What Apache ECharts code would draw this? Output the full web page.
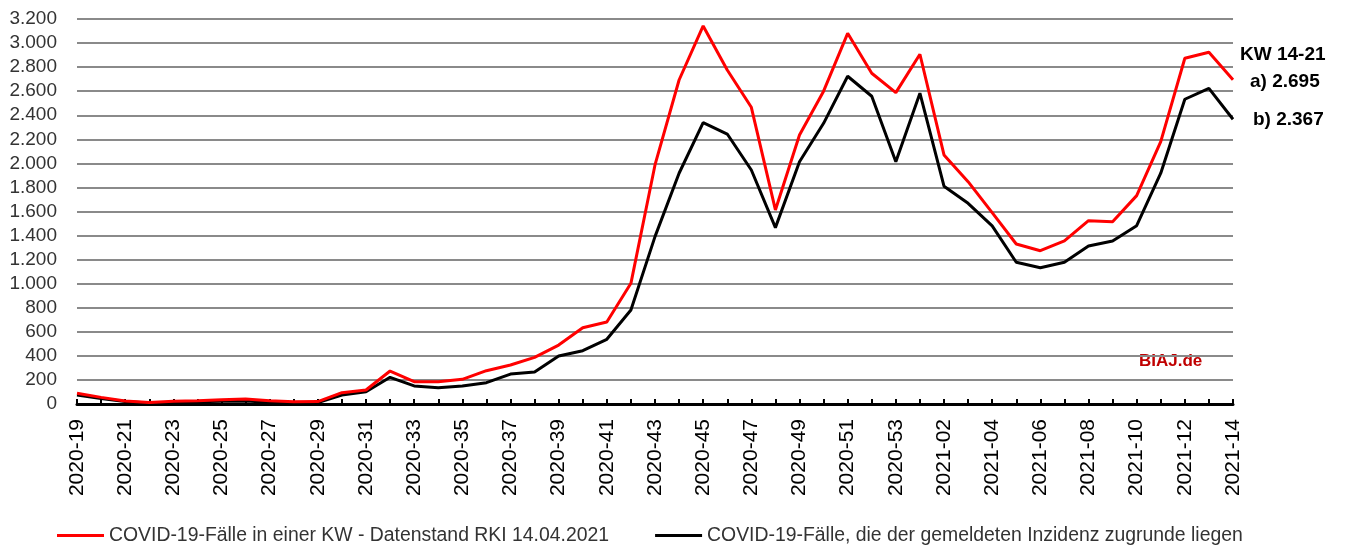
<!DOCTYPE html>
<html>
<head>
<meta charset="utf-8">
<script src="https://cdn.jsdelivr.net/npm/echarts@6/dist/echarts.min.js"></script>
<style>
  html, body { margin: 0; padding: 0; background: #fff; }
  #chart { width: 1346px; height: 545px; }
</style>
</head>
<body>
<div id="chart"></div>
<script>
// Kalenderwochen 2020-19 bis 2021-14
const weeks = [
  '2020-19', '2020-20', '2020-21', '2020-22', '2020-23', '2020-24', '2020-25', '2020-26',
  '2020-27', '2020-28', '2020-29', '2020-30', '2020-31', '2020-32', '2020-33', '2020-34',
  '2020-35', '2020-36', '2020-37', '2020-38', '2020-39', '2020-40', '2020-41', '2020-42',
  '2020-43', '2020-44', '2020-45', '2020-46', '2020-47', '2020-48', '2020-49', '2020-50',
  '2020-51', '2020-52', '2020-53', '2021-01', '2021-02', '2021-03', '2021-04', '2021-05',
  '2021-06', '2021-07', '2021-08', '2021-09', '2021-10', '2021-11', '2021-12', '2021-13',
  '2021-14'
];

// a) Fälle je KW, Datenstand RKI 14.04.2021
const faelleKW = [
  90, 55, 25, 12, 22, 28, 35, 42, 28, 18, 20,
  94, 116, 274, 185, 185, 205, 277, 324, 388, 490, 634, 682,
  1003, 1987, 2693, 3142, 2776, 2466, 1613, 2236, 2600, 3081, 2749, 2588, 2907,
  2070, 1848, 1590, 1330, 1274, 1355, 1524, 1515, 1732, 2181, 2874, 2923, 2695
];

// b) Fälle, die der gemeldeten Inzidenz zugrunde liegen
const faelleInzidenz = [
  75, 45, 20, 8, 15, 18, 22, 25, 15, 10, 12,
  75, 102, 222, 150, 135, 150, 177, 249, 266, 399, 443, 538,
  781, 1391, 1918, 2338, 2244, 1945, 1466, 2014, 2333, 2724, 2558, 2014, 2583,
  1810, 1668, 1480, 1178, 1133, 1178, 1313, 1355, 1482, 1918, 2533, 2624, 2367
];

const nameA = 'COVID-19-Fälle in einer KW - Datenstand RKI 14.04.2021';
const nameB = 'COVID-19-Fälle, die der gemeldeten Inzidenz zugrunde liegen';

function fmt(v) {
  if (v < 1000) return String(v);
  const rest = String(v % 1000).padStart(3, '0');
  return Math.floor(v / 1000) + '.' + rest;
}

const chart = echarts.init(document.getElementById('chart'));

chart.setOption({
  animation: false,
  textStyle: { fontFamily: 'Liberation Sans' },
  grid: { left: 77, right: 113, top: 19, height: 385 },
  xAxis: {
    type: 'category',
    data: weeks,
    boundaryGap: false,
    axisLine: { lineStyle: { color: '#000', width: 3 } },
    axisTick: { inside: true, length: 5, interval: 0, lineStyle: { color: '#000', width: 2 } },
    axisLabel: {
      interval: 1,
      rotate: 90,
      margin: 15,
      color: '#000',
      fontSize: 21
    },
    splitLine: { show: false }
  },
  yAxis: {
    type: 'value',
    min: 0,
    max: 3200,
    interval: 200,
    axisLine: { show: false },
    axisTick: { show: false },
    axisLabel: {
      margin: 20,
      color: '#333',
      fontSize: 19,
      formatter: fmt
    },
    splitLine: { lineStyle: { color: '#8a8a8a', width: 2 } }
  },
  legend: {
    left: 52,
    top: 521,
    icon: 'rect',
    itemWidth: 47,
    itemHeight: 3,
    itemGap: 46,
    textStyle: { fontSize: 19.4, color: '#333' },
    data: [nameA, nameB]
  },
  series: [
    {
      name: nameB,
      type: 'line',
      data: faelleInzidenz,
      symbol: 'none',
      lineStyle: { color: '#000', width: 3 },
      itemStyle: { color: '#000' }
    },
    {
      name: nameA,
      type: 'line',
      data: faelleKW,
      symbol: 'none',
      lineStyle: { color: '#ff0000', width: 3 },
      itemStyle: { color: '#ff0000' }
    }
  ],
  graphic: [
    {
      type: 'text', left: 1240, top: 45,
      style: { text: 'KW 14-21', font: 'bold 19px "Liberation Sans"', fill: '#000' }
    },
    {
      type: 'text', left: 1250, top: 72,
      style: { text: 'a) ' + fmt(faelleKW[faelleKW.length - 1]), font: 'bold 19px "Liberation Sans"', fill: '#000' }
    },
    {
      type: 'text', left: 1253, top: 110,
      style: { text: 'b) ' + fmt(faelleInzidenz[faelleInzidenz.length - 1]), font: 'bold 19px "Liberation Sans"', fill: '#000' }
    },
    {
      type: 'text', left: 1131, top: 351,
      style: {
        text: 'BIAJ.de', font: 'bold 17px "Liberation Sans"', fill: '#c00000',
        backgroundColor: '#fff', padding: [2, 8, 2, 8]
      }
    }
  ]
});
</script>
</body>
</html>
